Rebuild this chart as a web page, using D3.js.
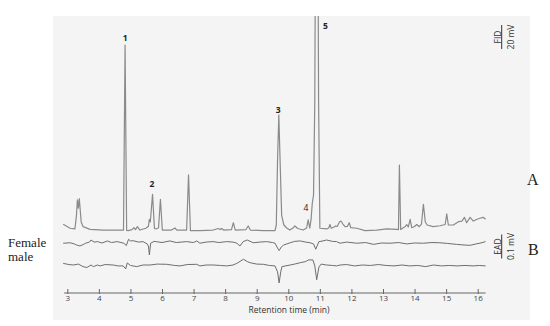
<!DOCTYPE html>
<html>
<head>
<meta charset="utf-8">
<script src="https://cdn.jsdelivr.net/npm/d3@7"></script>
<style>
  body { margin: 0; background: #fff; }
  svg { display: block; }
</style>
</head>
<body>
<div id="chart"></div>
<script>
// GC-EAD chromatogram: FID trace (A) and two antennal responses (B)

// FID trace, retention time (min) and signal (mV)
const fidTime = [2.87, 3.09, 3.24, 3.29, 3.32, 3.35, 3.38, 3.44, 3.50, 3.72, 4.14, 4.67, 4.78, 4.83, 4.88, 4.93,
  5.05, 5.11, 5.16, 5.22, 5.30, 5.49, 5.57, 5.60, 5.63, 5.70, 5.76, 5.80, 5.89, 5.95, 6.01, 6.30, 6.41, 6.47,
  6.78, 6.84, 6.90, 7.20, 7.62, 7.78, 7.84, 7.89, 7.95, 8.20, 8.26, 8.32, 8.66, 8.73, 8.80, 9.20, 9.58, 9.62,
  9.66, 9.70, 9.74, 9.79, 9.86, 9.95, 10.05, 10.15, 10.21, 10.30, 10.47, 10.58, 10.63, 10.68, 10.72, 10.76,
  10.80, 10.84, 10.86, 10.94, 10.96, 11.00, 11.22, 11.28, 11.32, 11.36, 11.45, 11.50, 11.55, 11.62, 11.67,
  11.73, 11.80, 11.87, 11.93, 11.98, 12.17, 12.43, 12.80, 13.12, 13.43, 13.49, 13.52, 13.56, 13.63, 13.70,
  13.75, 13.80, 13.86, 13.91, 14.00, 14.07, 14.15, 14.22, 14.28, 14.34, 14.40, 14.59, 14.81, 14.97, 15.02,
  15.07, 15.23, 15.39, 15.50, 15.58, 15.65, 15.76, 15.86, 15.96, 16.07, 16.17, 16.25];
const fidSignal = [5.6, 2.3, 1.7, 13, 26, 19, 27, 7.5, 3.6, 1.4, 0.8, 0.8, 0.8, 155, 0.4, 0.3,
  1.2, 2.8, 1.2, 3.6, 0.8, 2.3, 4, 9.8, 7.5, 30.6, 2.3, 1.7, 2.5, 26.4, 0.8, 0.8, 2.5, 0.8,
  0.8, 46.7, 0.3, 0.3, 0.8, 2.1, 1.2, 2.1, 0.8, 1.2, 6.9, 0.8, 1.2, 4.2, 0.8, 0.3, 0.3, 5,
  59, 96.7, 59, 13, 5, 2.5, 0.8, 2.5, 4.2, 2.1, 0.8, 2.5, 9.2, 2.3, 9.2, 23,
  30, 109, 242, 242, 109, 2.3, 1.7, 2.5, 5.4, 2.3, 3.3, 4.2, 3.75, 7.5, 8.3,
  5.8, 3.6, 3.75, 6.9, 2.75, 2.3, 0.3, 0.8, 1.7, 1.4, 1.2, 55, 1.2, 2.5, 3.6,
  5.4, 3.3, 9.75, 2.75, 3.75, 5.4, 3.6, 5.8, 22.25, 7.5, 5, 3.6, 4.4, 5.4, 14.2,
  5, 5, 7.75, 8.3, 11.4, 6.9, 11.4, 8.3, 9.6, 10.6, 11.4, 9.75];

// EAD trace, female antenna (µV)
const femaleTime = [2.87, 3.09, 3.22, 3.30, 3.40, 3.50, 3.58, 3.70, 3.75, 3.85, 3.96, 4.10, 4.27, 4.40, 4.58,
  4.70, 4.79, 4.87, 4.94, 5.00, 5.09, 5.25, 5.40, 5.53, 5.57, 5.60, 5.64, 5.75, 5.82, 6.00, 6.25, 6.45, 6.78,
  7.00, 7.10, 7.20, 7.40, 7.62, 7.80, 8.05, 8.25, 8.37, 8.47, 8.57, 8.70, 8.89, 9.10, 9.31, 9.50, 9.58, 9.66,
  9.71, 9.78, 9.85, 10.06, 10.20, 10.38, 10.55, 10.69, 10.80, 10.87, 10.97, 11.10, 11.21, 11.40, 11.53, 11.64,
  11.85, 12.17, 12.45, 12.70, 12.95, 13.22, 13.50, 13.75, 14.00, 14.28, 14.55, 14.80, 15.05, 15.33, 15.60,
  15.76, 15.95, 16.07, 16.25];
const femaleSignal = [-1, 1, -4, -9, -13, -7, -1, 4, 13, 4, 6, 0, 9, 2, 6,
  2, -1, -11, 16, 9, 10, 4, 6, -4, -13, -52, -1, 7, 6, 2, 9, 2, 6,
  2, 9, -1, 4, 6, 2, 6, 4, -1, -13, 6, 13, 1, 4, 6, 2, -1, -22,
  -33, -17, -9, 1, 7, 9, 4, 1, -4, -27, 6, 9, 13, 7, 6, -1,
  4, -1, 2, -6, 0, -1, 2, -4, 0, -1, 2, 1, -2, -6, -9,
  -10, -4, -1, 6];

// EAD trace, male antenna (µV)
const maleTime = [2.87, 3.05, 3.19, 3.35, 3.50, 3.62, 3.75, 3.83, 3.95, 4.04, 4.20, 4.46, 4.60, 4.77, 4.85,
  4.90, 5.00, 5.20, 5.40, 5.62, 5.85, 6.15, 6.40, 6.57, 6.80, 7.10, 7.20, 7.40, 7.62, 7.85, 8.05, 8.25, 8.37,
  8.58, 8.70, 8.79, 9.00, 9.21, 9.40, 9.58, 9.66, 9.71, 9.76, 9.80, 10.06, 10.20, 10.38, 10.55, 10.64, 10.78,
  10.84, 10.90, 10.97, 11.04, 11.21, 11.40, 11.53, 11.64, 11.85, 12.10, 12.35, 12.60, 12.85, 13.10, 13.35,
  13.60, 13.85, 14.10, 14.35, 14.60, 14.85, 15.10, 15.35, 15.60, 15.85, 16.05, 16.25];
const maleSignal = [7, 2, 0, 4, -7, -11, 0, -7, 0, -4, 2, 0, -4, -4, -17,
  9, -2, -7, 0, 0, 4, 3, -2, -4, 2, 3, -4, 0, 0, -2, -4, 0, 7,
  25, 15, 10, 4, 3, -2, -4, -30, -78, -30, -7, 0, 4, 10, 15, 22, 22,
  -4, -64, -9, 4, 0, -2, -4, 0, 2, -4, 0, -2, 2, -2, -4,
  0, -4, -2, -7, 0, -4, -2, -4, -2, -4, -2, -4];

// axis ticks and peak labels
const tickValues = [3, 4, 5, 6, 7, 8, 9, 10, 11, 12, 13, 14, 15, 16];
const peakLabels = ["1", "2", "3", "4", "5"];
const peakLabelTimes = [4.83, 5.68, 9.68, 10.56, 11.18];
const peakLabelLevels = [158, 36.5, 98, 16.4, 168];
const peakLabelBold = [true, true, true, false, true];

const width = 550, height = 326;

const svg = d3.select("#chart")
  .append("svg")
    .attr("width", width)
    .attr("height", height);

// light plot panel
svg.append("rect")
  .attr("x", 53)
  .attr("y", 16)
  .attr("width", 477)
  .attr("height", 304)
  .attr("fill", "#f4f4f4");

svg.append("clipPath")
  .attr("id", "panel")
  .append("rect")
    .attr("x", 53)
    .attr("y", 16)
    .attr("width", 477)
    .attr("height", 304);

// scales
const x = d3.scaleLinear().domain([3, 16]).range([67.3, 477.7]);
const yFid = d3.scaleLinear().domain([0, 20]).range([231, 207]);
const yFemale = d3.scaleLinear().domain([0, 100]).range([243, 220]);
const yMale = d3.scaleLinear().domain([0, 100]).range([265, 242]);

const drawTrace = (times, values, y, color, w) => {
  const pts = times.map((t, i) => [t, values[i]]);
  svg.append("path")
    .datum(pts)
    .attr("clip-path", "url(#panel)")
    .attr("fill", "none")
    .attr("stroke", color)
    .attr("stroke-width", w)
    .attr("stroke-linejoin", "round")
    .attr("d", d3.line()
      .x(d => x(d[0]))
      .y(d => y(d[1]))
    );
};

drawTrace(fidTime, fidSignal, yFid, "#8a8a8a", 1.2);
drawTrace(femaleTime, femaleSignal, yFemale, "#6e6e6e", 1);
drawTrace(maleTime, maleSignal, yMale, "#6e6e6e", 1);

// peak numbers
peakLabels.forEach((lab, i) => {
  svg.append("text")
    .attr("x", x(peakLabelTimes[i]))
    .attr("y", yFid(peakLabelLevels[i]))
    .attr("text-anchor", "middle")
    .style("font-family", "'Open Sans', sans-serif")
    .style("font-size", "8.5px")
    .style("font-weight", peakLabelBold[i] ? "bold" : "normal")
    .style("fill", "#222")
    .text(lab);
});

// x-axis
const axis = svg.append("g")
  .attr("transform", "translate(0,293)")
  .call(d3.axisBottom(x)
    .tickValues(tickValues)
    .tickSizeInner(-4)
    .tickSizeOuter(0)
    .tickPadding(2));
axis.select(".domain").remove();
axis.append("line")
  .attr("x1", x(2.9))
  .attr("x2", x(16.25))
  .attr("stroke", "#666");
axis.selectAll(".tick line").attr("stroke", "#666").attr("y2", -4).attr("y1", 1);
axis.selectAll(".tick text")
  .style("font-family", "'Open Sans', sans-serif")
  .style("font-size", "8px")
  .style("fill", "#444");

// x-axis label
svg.append("text")
  .attr("x", 289)
  .attr("y", 313)
  .attr("text-anchor", "middle")
  .style("font-family", "'Open Sans', sans-serif")
  .style("font-size", "8.5px")
  .style("fill", "#333")
  .text("Retention time (min)");

// scale bars with rotated labels
const scaleBar = (cy, top, bottom) => {
  svg.append("line")
    .attr("x1", 501.7).attr("x2", 501.7)
    .attr("y1", cy - 12).attr("y2", cy + 12)
    .attr("stroke", "#333")
    .attr("stroke-width", 1);
  svg.append("text")
    .attr("transform", `translate(500.5,${cy}) rotate(-90)`)
    .attr("text-anchor", "middle")
    .style("font-family", "'Open Sans', sans-serif")
    .style("font-size", "8.5px")
    .style("fill", "#333")
    .text(top);
  svg.append("text")
    .attr("transform", `translate(513.5,${cy}) rotate(-90)`)
    .attr("text-anchor", "middle")
    .style("font-family", "'Open Sans', sans-serif")
    .style("font-size", "8.5px")
    .style("fill", "#333")
    .text(bottom);
};
scaleBar(37, "FID", "20 mV");
scaleBar(246.5, "EAD", "0.1 mV");

// panel letters and antenna names
const serifText = (tx, ty, txt, size) => {
  svg.append("text")
    .attr("x", tx)
    .attr("y", ty)
    .style("font-family", "'Liberation Serif', 'Times New Roman', serif")
    .style("font-size", size)
    .style("fill", "#222")
    .text(txt);
};
serifText(527, 185, "A", "16px");
serifText(528, 255, "B", "16px");
serifText(8, 247, "Female", "13px");
serifText(8, 261, "male", "13px");
</script>
</body>
</html>
